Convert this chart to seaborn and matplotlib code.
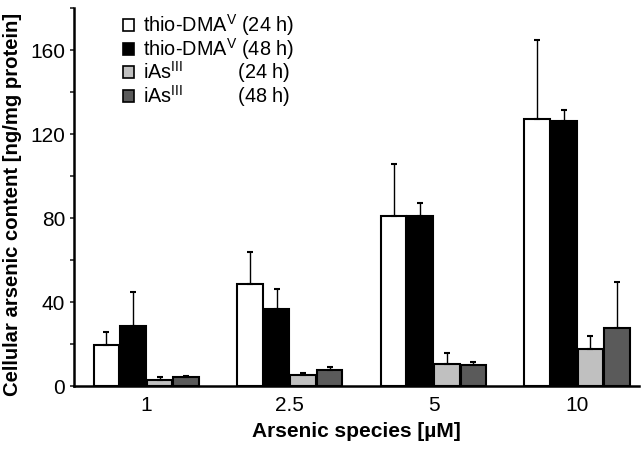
import matplotlib
matplotlib.use("Agg")
import matplotlib.pyplot as plt
from matplotlib.ticker import MultipleLocator
import seaborn as sns
import pandas as pd

# Daten ablesen aus der Abbildung
concentrations = ["1", "2.5", "5", "10"]
series = ["thio-DMA$^{\\mathrm{V}}$ (24 h)", "thio-DMA$^{\\mathrm{V}}$ (48 h)",
          "iAs$^{\\mathrm{III}}$          (24 h)", "iAs$^{\\mathrm{III}}$          (48 h)"]
thio_24 = [19.5, 48.4, 81.1, 127.1]
thio_48 = [28.5, 36.8, 81.0, 126.2]
ias_24 = [3.0, 5.1, 10.5, 17.6]
ias_48 = [4.3, 7.6, 10.2, 27.6]
thio_24_sd = [6.2, 15.3, 24.6, 37.8]
thio_48_sd = [16.5, 9.5, 6.3, 5.2]
ias_24_sd = [1.3, 1.2, 5.1, 6.4]
ias_48_sd = [0.6, 1.3, 1.4, 21.9]
colors = ["white", "black", "#c0c0c0", "#5a5a5a"]

values = [thio_24, thio_48, ias_24, ias_48]
errors = [thio_24_sd, thio_48_sd, ias_24_sd, ias_48_sd]

rows = []
for s, vals, errs in zip(series, values, errors):
    for c, v, e in zip(concentrations, vals, errs):
        rows.append({"conc": c, "series": s, "value": v, "sd": e})
df = pd.DataFrame(rows)

sns.set_style("ticks")
plt.rcParams["font.family"] = ["Liberation Sans", "DejaVu Sans"]
plt.rcParams["mathtext.fontset"] = "custom"
plt.rcParams["mathtext.rm"] = "Liberation Sans"

fig = plt.figure(figsize=(6.44, 4.49), dpi=100)
ax = fig.add_axes([0.115, 0.14, 0.877, 0.842])

sns.barplot(data=df, x="conc", y="value", hue="series", order=concentrations,
            hue_order=series, palette=colors, width=0.74, gap=0.04,
            edgecolor="black", linewidth=1.5, errorbar=None, ax=ax)

# Fehlerbalken nur nach oben
for cont, s in zip(ax.containers, series):
    sub = df[df["series"] == s]
    xs = [p.get_x() + p.get_width() / 2 for p in cont.patches]
    ax.errorbar(xs, sub["value"].values, yerr=[[0] * len(xs), sub["sd"].values],
                fmt="none", ecolor="black", elinewidth=1, capsize=2, capthick=1.5)

ax.set_ylim(0, 180)
ax.set_xlim(-0.503, 3.43)
ax.yaxis.set_major_locator(MultipleLocator(40))
ax.yaxis.set_minor_locator(MultipleLocator(20))
ax.tick_params(axis="y", which="both", length=3, width=1.2, labelsize=15,
               labelcolor="black")
ax.tick_params(axis="x", length=0, labelsize=15, pad=7, labelcolor="black")
sns.despine(ax=ax)
for sp in ["left", "bottom"]:
    ax.spines[sp].set_linewidth(1.8)
    ax.spines[sp].set_color("black")

ax.set_xlabel("Arsenic species [\u00b5M]", fontsize=15, fontweight="bold",
              labelpad=5, color="black")
ax.set_ylabel("Cellular arsenic content [ng/mg protein]", fontsize=14.6,
              fontweight="bold", color="black")
ax.yaxis.set_label_coords(-0.092, 0.48)

leg = ax.legend(loc="upper left", bbox_to_anchor=(0.065, 1.02), frameon=False,
                fontsize=14.3, handlelength=0.55, handleheight=0.55,
                handletextpad=0.45, labelspacing=-0.12, borderaxespad=0.2)
for h in leg.legend_handles:
    h.set_edgecolor("black")
    h.set_linewidth(1.2)
for t in leg.get_texts():
    t.set_color("black")

plt.savefig("out.png", dpi=100)
